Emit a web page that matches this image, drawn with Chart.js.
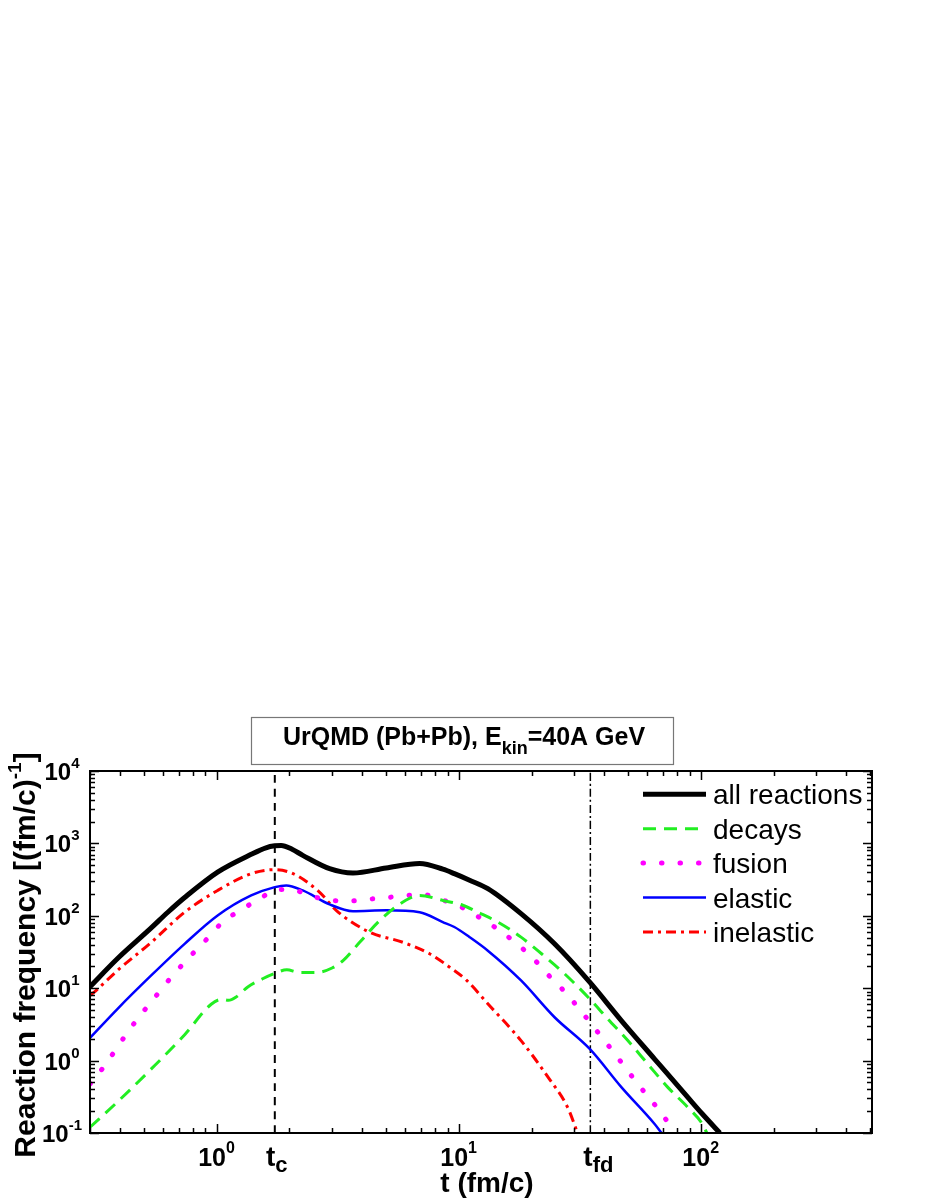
<!DOCTYPE html>
<html>
<head>
<meta charset="utf-8">
<title>UrQMD reaction frequency</title>
<script src="https://cdn.jsdelivr.net/npm/chart.js@4.4.1/dist/chart.umd.min.js"></script>
<style>
  html, body { margin: 0; padding: 0; background: #fff; }
  canvas { display: block; }
</style>
</head>
<body>
<canvas id="myChart" width="926" height="1199"></canvas>
<script>
// t (fm/c) et fréquences
const tAll = [0.3, 0.39, 0.537, 0.629, 0.738, 1.01, 1.39, 1.6, 1.74, 1.85, 2.05, 2.27, 2.93, 3.66, 5.02, 6.9, 8.6, 9.6, 11.1, 13.2, 18.1, 24.9, 34.8, 47, 64.5, 88.5, 101.6, 120];
const vAll = [10.5, 25.7, 68, 112, 179, 402, 707, 870, 925, 935, 830, 684, 448, 390, 457, 526, 440, 382, 310, 237, 107, 41, 12.1, 3.57, 1.05, 0.31, 0.183, 0.1];

const tDecays = [0.3, 0.39, 0.54, 0.74, 0.95, 1.05, 1.12, 1.2, 1.35, 1.55, 1.74, 1.95, 2.2, 2.6, 3.0, 3.33, 3.9, 4.72, 5.89, 6.9, 8.6, 10.4, 12, 14.5, 18.1, 22, 27.4, 34.8, 41.3, 50, 60.4, 73, 88.5, 101.6, 106];
const vDecays = [0.12, 0.27, 0.78, 2.3, 6.0, 7.0, 6.8, 7.5, 10.5, 13.5, 16, 18, 16.5, 16.5, 19, 24, 43, 86, 155, 191, 163, 140, 112, 82, 50.7, 29.9, 15.8, 7.1, 3.77, 1.89, 0.9, 0.43, 0.226, 0.133, 0.1];

const tFusion = [0.3, 0.341, 0.385, 0.434, 0.496, 0.572, 0.65, 0.761, 0.906, 1.06, 1.265, 1.506, 1.79, 2.13, 2.35, 3.03, 3.54, 4.28, 5.02, 6.08, 7.13, 8.5, 10.1, 12, 14.3, 17.1, 20.2, 23.7, 27.9, 32.3, 37.1, 42.6, 48.4, 55.4, 63.9, 72.7, 78];
const vFusion = [0.475, 0.81, 1.45, 2.6, 4.66, 8.4, 14.2, 25.5, 46.7, 82, 121, 172, 230, 224, 196, 163, 160, 170, 178, 191, 196, 167, 135, 98, 67.6, 43, 26.3, 14.7, 8.4, 4.66, 2.6, 1.45, 0.83, 0.46, 0.257, 0.145, 0.1];

const tElastic = [0.3, 0.39, 0.537, 0.738, 1.01, 1.39, 1.74, 1.94, 2.27, 2.93, 3.66, 5.02, 6.9, 8.6, 9.6, 11.1, 13.2, 18.1, 24.9, 34.8, 47, 64.5, 68.9];
const vElastic = [2.06, 5.2, 15, 41, 101, 191, 249, 263, 224, 144, 116, 119, 112, 82, 70, 50.7, 33, 12.8, 3.97, 1.45, 0.43, 0.133, 0.1];

const tInelastic = [0.3, 0.32, 0.39, 0.537, 0.738, 1.01, 1.39, 1.74, 2.07, 2.66, 3.12, 4.28, 5.89, 7.59, 9.18, 10.8, 13.2, 18.1, 23.4, 28.2, 31];
const vInelastic = [7.9, 9.5, 17.6, 43, 112, 224, 382, 434, 382, 213, 119, 59.5, 43, 29.9, 19.5, 12.8, 6.1, 1.89, 0.59, 0.226, 0.1];

const tC = 1.74;   // t_c
const tFd = 35;    // t_fd

const xMajor = [1, 10, 100];
const yMajor = [0.1, 1, 10, 100, 1000, 10000];
const xMin = 0.3, xMax = 510, yMin = 0.1, yMax = 10000;

const FONT = 'Liberation Sans, Arial, Helvetica, sans-serif';

function pts(ts, vs) {
  return ts.map((t, i) => ({ x: t, y: vs[i] }));
}

// texte avec exposant / indice
function rich(ctx, parts, x, y, align) {
  let w = 0;
  parts.forEach(p => {
    ctx.font = (p.bold === false ? '' : 'bold ') + p.size + 'px ' + FONT;
    p.w = ctx.measureText(p.t).width;
    w += p.w;
  });
  let cx = align === 'center' ? x - w / 2 : (align === 'right' ? x - w : x);
  ctx.textAlign = 'left';
  ctx.textBaseline = 'alphabetic';
  parts.forEach(p => {
    ctx.font = (p.bold === false ? '' : 'bold ') + p.size + 'px ' + FONT;
    ctx.fillText(p.t, cx, y + (p.dy || 0));
    cx += p.w;
  });
}

function minorList(min, max) {
  const out = [];
  for (let e = -2; e <= 4; e++) {
    for (let m = 1; m <= 9; m++) {
      const v = m * Math.pow(10, e);
      if (v >= min * 0.999 && v <= max * 1.001) out.push({ v: v, major: m === 1 });
    }
  }
  return out;
}

const framePlugin = {
  id: 'frame',
  afterDatasetsDraw(chart) {
    const ctx = chart.ctx;
    const a = chart.chartArea;
    const xs = chart.scales.x, ys = chart.scales.y;
    ctx.save();
    ctx.strokeStyle = '#000';
    ctx.lineWidth = 2;
    ctx.setLineDash([]);
    ctx.strokeRect(a.left, a.top, a.right - a.left, a.bottom - a.top);

    ctx.lineWidth = 1.5;
    minorList(xMin, xMax).forEach(tk => {
      const px = Math.round(xs.getPixelForValue(tk.v)) + 0.5;
      const len = tk.major ? 9 : 5;
      ctx.beginPath();
      ctx.moveTo(px, a.bottom); ctx.lineTo(px, a.bottom - len);
      ctx.moveTo(px, a.top); ctx.lineTo(px, a.top + len);
      ctx.stroke();
    });
    minorList(yMin, yMax).forEach(tk => {
      const py = Math.round(ys.getPixelForValue(tk.v)) + 0.5;
      const len = tk.major ? 9 : 5;
      ctx.beginPath();
      ctx.moveTo(a.left, py); ctx.lineTo(a.left + len, py);
      ctx.moveTo(a.right, py); ctx.lineTo(a.right - len, py);
      ctx.stroke();
    });

    ctx.fillStyle = '#000';
    // étiquettes de l'axe x
    xMajor.forEach(v => {
      const px = xs.getPixelForValue(v);
      rich(ctx, [{ t: '10', size: 25 }, { t: String(Math.round(Math.log10(v))), size: 16, dy: -13 }], px, a.bottom + 33, 'center');
    });
    rich(ctx, [{ t: 't', size: 28 }, { t: 'c', size: 22, dy: 6 }], xs.getPixelForValue(tC) + 2, a.bottom + 33, 'center');
    rich(ctx, [{ t: 't', size: 28 }, { t: 'fd', size: 22, dy: 6 }], xs.getPixelForValue(tFd) + 8, a.bottom + 33, 'center');
    // étiquettes de l'axe y
    yMajor.forEach(v => {
      const py = ys.getPixelForValue(v);
      rich(ctx, [{ t: '10', size: 24 }, { t: String(Math.round(Math.log10(v))), size: 15, dy: -12 }], 62, py + 9, 'center');
    });
    // titres des axes
    rich(ctx, [{ t: 't (fm/c)', size: 28 }], 487, 1192, 'center');
    ctx.save();
    ctx.translate(35, 955);
    ctx.rotate(-Math.PI / 2);
    rich(ctx, [{ t: 'Reaction frequency [(fm/c)', size: 30 }, { t: '-1', size: 19, dy: -14 }, { t: ']', size: 30 }], 0, 0, 'center');
    ctx.restore();

    // titre encadré
    ctx.strokeStyle = '#777';
    ctx.lineWidth = 1.2;
    ctx.strokeRect(251.5, 717.5, 422, 47);
    rich(ctx, [{ t: 'UrQMD (Pb+Pb), E', size: 25 }, { t: 'kin', size: 18, dy: 9 }, { t: '=40A GeV', size: 25 }], 464, 745, 'center');

    // légende
    let ly = 794.3;
    chart.data.datasets.forEach(ds => {
      if (ds.noLegend) return;
      ctx.strokeStyle = ds.borderColor;
      ctx.lineWidth = ds.borderWidth;
      ctx.lineCap = ds.borderCapStyle || 'butt';
      ctx.setLineDash(ds.borderDash || []);
      ctx.beginPath();
      ctx.moveTo(643, ly); ctx.lineTo(706, ly);
      ctx.stroke();
      ctx.setLineDash([]);
      ctx.lineCap = 'butt';
      rich(ctx, [{ t: ds.label, size: 28, bold: false }], 713, ly + 10, 'left');
      ly += 34.4;
    });
    ctx.restore();
  }
};

const ctx = document.getElementById('myChart').getContext('2d');

const data = {
  datasets: [
    {
      label: 'all reactions',
      data: pts(tAll, vAll),
      borderColor: '#000000',
      borderWidth: 5
    },
    {
      label: 'decays',
      data: pts(tDecays, vDecays),
      borderColor: '#22ee22',
      borderWidth: 3,
      borderDash: [13, 8]
    },
    {
      label: 'fusion',
      data: pts(tFusion, vFusion),
      borderColor: '#ff00ff',
      borderWidth: 5,
      borderDash: [0.5, 18],
      borderCapStyle: 'round'
    },
    {
      label: 'elastic',
      data: pts(tElastic, vElastic),
      borderColor: '#0000ff',
      borderWidth: 2.5
    },
    {
      label: 'inelastic',
      data: pts(tInelastic, vInelastic),
      borderColor: '#ff0000',
      borderWidth: 3,
      borderDash: [10, 5, 3, 5]
    },
    {
      label: 't_c',
      noLegend: true,
      data: [{ x: tC, y: yMin }, { x: tC, y: yMax }],
      borderColor: '#000',
      borderWidth: 2,
      borderDash: [8, 6]
    },
    {
      label: 't_fd',
      noLegend: true,
      data: [{ x: tFd, y: yMin }, { x: tFd, y: yMax }],
      borderColor: '#000',
      borderWidth: 1.5,
      borderDash: [8, 3, 2, 3]
    }
  ]
};

const options = {
  responsive: false,
  animation: false,
  events: [],
  layout: { padding: { left: 90, top: 771, right: 54, bottom: 66 } },
  elements: {
    point: { radius: 0 },
    line: { cubicInterpolationMode: 'monotone', fill: false }
  },
  plugins: { legend: { display: false }, tooltip: { enabled: false } },
  scales: {
    x: { type: 'logarithmic', min: xMin, max: xMax, display: false },
    y: { type: 'logarithmic', min: yMin, max: yMax, display: false }
  }
};

const myChart = new Chart(ctx, {
  type: 'line',
  data: data,
  options: options,
  plugins: [framePlugin]
});
</script>
</body>
</html>
